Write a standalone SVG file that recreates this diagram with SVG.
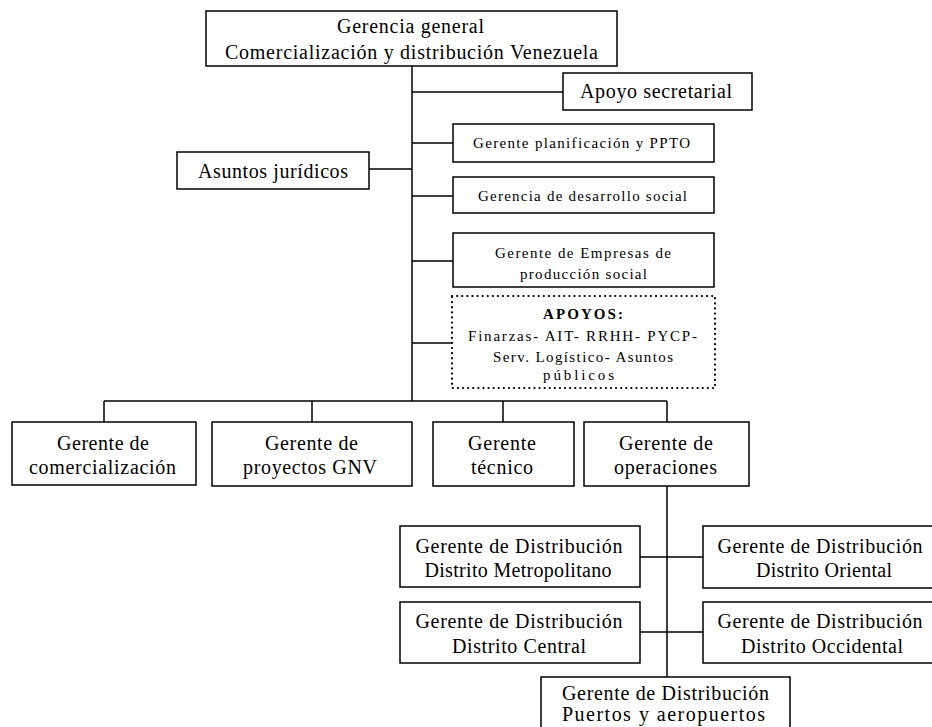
<svg xmlns="http://www.w3.org/2000/svg" width="932" height="727" viewBox="0 0 932 727">
  <style>
    .box { fill: #fff; stroke: #000; stroke-width: 1.5; }
    .dotted { fill: #fff; stroke: #000; stroke-width: 2.2; stroke-dasharray: 0.1 5; stroke-linecap: round; }
    .line { stroke: #000; stroke-width: 1.5; fill: none; }
    text { font-family: "Liberation Serif", "Times New Roman", serif; fill: #000; text-anchor: middle; }
    .big { font-size: 20px; }
    .small { font-size: 15px; }
    .bold { font-weight: bold; }
  </style>
  <rect width="932" height="727" fill="#fff"/>

  <!-- connectors -->
  <g id="connectors">
    <line class="line" x1="412" y1="66" x2="412" y2="401"/>
    <line class="line" x1="412" y1="92" x2="563" y2="92"/>
    <line class="line" x1="412" y1="143" x2="453" y2="143"/>
    <line class="line" x1="369" y1="169" x2="412" y2="169"/>
    <line class="line" x1="412" y1="196" x2="453" y2="196"/>
    <line class="line" x1="412" y1="261" x2="453" y2="261"/>
    <line class="line" x1="412" y1="343" x2="452" y2="343"/>
    <line class="line" x1="104" y1="401" x2="667" y2="401"/>
    <line class="line" x1="104" y1="401" x2="104" y2="422"/>
    <line class="line" x1="312" y1="401" x2="312" y2="422"/>
    <line class="line" x1="503" y1="401" x2="503" y2="422"/>
    <line class="line" x1="667" y1="401" x2="667" y2="422"/>
    <line class="line" x1="667" y1="486" x2="667" y2="677"/>
    <line class="line" x1="640" y1="557" x2="703" y2="557"/>
    <line class="line" x1="640" y1="632" x2="703" y2="632"/>
  </g>

  <g id="gerencia-general">
    <rect class="box" x="206" y="11" width="411" height="55"/>
    <text class="big" x="410.5" y="33" textLength="147" lengthAdjust="spacing">Gerencia general</text>
    <text class="big" x="411.5" y="59" textLength="373" lengthAdjust="spacing">Comercialización y distribución Venezuela</text>
  </g>

  <g id="apoyo-secretarial">
    <rect class="box" x="563" y="73" width="189" height="37"/>
    <text class="big" x="656" y="98" textLength="152" lengthAdjust="spacing">Apoyo secretarial</text>
  </g>

  <g id="planificacion">
    <rect class="box" x="453" y="124" width="261" height="38"/>
    <text class="small" x="581.5" y="148" textLength="217" lengthAdjust="spacing">Gerente planificación y PPTO</text>
  </g>

  <g id="asuntos-juridicos">
    <rect class="box" x="177" y="152" width="192" height="37"/>
    <text class="big" x="273" y="178" textLength="150" lengthAdjust="spacing">Asuntos jurídicos</text>
  </g>

  <g id="desarrollo-social">
    <rect class="box" x="453" y="177" width="261" height="36"/>
    <text class="small" x="582.5" y="201" textLength="209" lengthAdjust="spacing">Gerencia de desarrollo social</text>
  </g>

  <g id="empresas-produccion">
    <rect class="box" x="453" y="233" width="261" height="54"/>
    <text class="small" x="583" y="258" textLength="176" lengthAdjust="spacing">Gerente de Empresas de</text>
    <text class="small" x="583.5" y="279" textLength="127" lengthAdjust="spacing">producción social</text>
  </g>

  <g id="apoyos">
    <rect class="dotted" x="452" y="296" width="263" height="92"/>
    <text class="small bold" x="583" y="319" textLength="80" lengthAdjust="spacing">APOYOS:</text>
    <text class="small" x="582.5" y="341" textLength="229" lengthAdjust="spacing">Finarzas- AIT- RRHH- PYCP-</text>
    <text class="small" x="583" y="362" textLength="180" lengthAdjust="spacing">Serv. Logístico- Asuntos</text>
    <text class="small" x="578.5" y="380" textLength="71" lengthAdjust="spacing">públicos</text>
  </g>

  <g id="comercializacion">
    <rect class="box" x="12" y="422" width="184" height="63"/>
    <text class="big" x="103" y="450" textLength="92" lengthAdjust="spacing">Gerente de</text>
    <text class="big" x="102.5" y="474" textLength="147" lengthAdjust="spacing">comercialización</text>
  </g>

  <g id="proyectos-gnv">
    <rect class="box" x="212" y="422" width="200" height="64"/>
    <text class="big" x="311.5" y="450" textLength="93" lengthAdjust="spacing">Gerente de</text>
    <text class="big" x="310" y="474" textLength="134" lengthAdjust="spacing">proyectos GNV</text>
  </g>

  <g id="tecnico">
    <rect class="box" x="433" y="422" width="141" height="64"/>
    <text class="big" x="502" y="450" textLength="68" lengthAdjust="spacing">Gerente</text>
    <text class="big" x="502" y="474" textLength="62" lengthAdjust="spacing">técnico</text>
  </g>

  <g id="operaciones">
    <rect class="box" x="584" y="422" width="165" height="64"/>
    <text class="big" x="666" y="450" textLength="94" lengthAdjust="spacing">Gerente de</text>
    <text class="big" x="665.5" y="474" textLength="103" lengthAdjust="spacing">operaciones</text>
  </g>

  <g id="metropolitano">
    <rect class="box" x="400" y="526" width="240" height="61"/>
    <text class="big" x="519" y="553" textLength="207" lengthAdjust="spacing">Gerente de Distribución</text>
    <text class="big" x="518" y="577" textLength="187" lengthAdjust="spacing">Distrito Metropolitano</text>
  </g>

  <g id="oriental">
    <rect class="box" x="703" y="526" width="236" height="62"/>
    <text class="big" x="820" y="553" textLength="205" lengthAdjust="spacing">Gerente de Distribución</text>
    <text class="big" x="824" y="577" textLength="136" lengthAdjust="spacing">Distrito Oriental</text>
  </g>

  <g id="central">
    <rect class="box" x="400" y="602" width="240" height="61"/>
    <text class="big" x="519" y="628" textLength="207" lengthAdjust="spacing">Gerente de Distribución</text>
    <text class="big" x="519" y="653" textLength="134" lengthAdjust="spacing">Distrito Central</text>
  </g>

  <g id="occidental">
    <rect class="box" x="703" y="602" width="236" height="61"/>
    <text class="big" x="820" y="628" textLength="205" lengthAdjust="spacing">Gerente de Distribución</text>
    <text class="big" x="822" y="653" textLength="162" lengthAdjust="spacing">Distrito Occidental</text>
  </g>

  <g id="puertos">
    <rect class="box" x="541" y="677" width="249" height="56"/>
    <text class="big" x="665.5" y="700" textLength="207" lengthAdjust="spacing">Gerente de Distribución</text>
    <text class="big" x="663.5" y="721" textLength="203" lengthAdjust="spacing">Puertos y aeropuertos</text>
  </g>
</svg>
